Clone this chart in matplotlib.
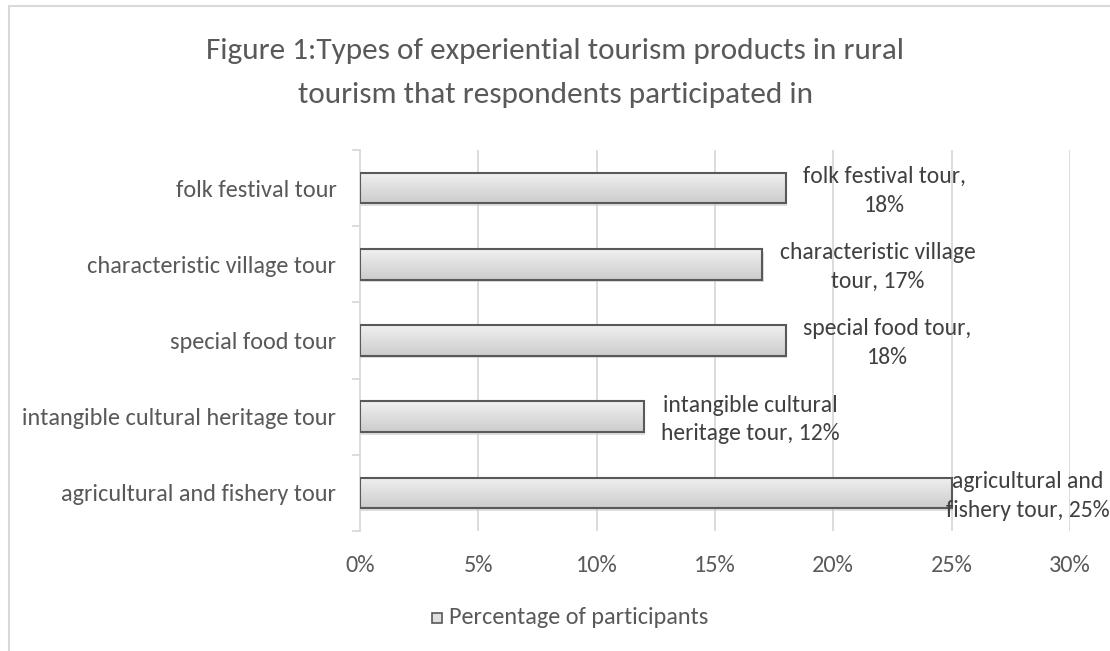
import matplotlib.pyplot as plt
from matplotlib import font_manager
from matplotlib.patches import Rectangle
import numpy as np

categories = ['agricultural and fishery tour', 'intangible cultural heritage tour',
              'special food tour', 'characteristic village tour', 'folk festival tour']
values = [25, 12, 18, 17, 18]
point_labels = ['agricultural and\nfishery tour, 25%', 'intangible cultural\nheritage tour, 12%',
                'special food tour,\n18%', 'characteristic village\ntour, 17%',
                'folk festival tour,\n18%']
ticks = [0, 5, 10, 15, 20, 25, 30]

GRAY = '#595959'
installed = {f.name for f in font_manager.fontManager.ttflist}
if 'Carlito' in installed:
    plt.rcParams['font.family'] = ['Carlito', 'DejaVu Sans']
    FS, LFS, TFS, TLS = 17.5, 17, 22.5, 1.85
else:
    plt.rcParams['font.family'] = ['Lato', 'DejaVu Sans']
    FS, LFS, TFS, TLS = 16, 15.5, 20, 2.1

fig = plt.figure(figsize=(11.1, 6.51), dpi=100)
W, H = 1110, 651

# chart frame
fig.patches.append(Rectangle((9 / W, -0.1), 1.2, 1 - 6 / H + 0.1, transform=fig.transFigure,
                             fill=False, edgecolor='#d9d9d9', linewidth=1.5))

ax = fig.add_axes([360 / W, 1 - 531 / H, 710 / W, 381 / H])

# vertical gridlines
for t in ticks[1:]:
    ax.axvline(t, color='#d9d9d9', linewidth=1.3, zorder=0)

# bars with a vertical grey gradient, outline and a soft shadow
grad = np.linspace(0.94, 0.80, 64).reshape(-1, 1)
bh = 0.4
for i, v in enumerate(values):
    ax.add_patch(Rectangle((0.05, i - bh / 2 - 0.035), v, bh, facecolor='#c8c8c8',
                           edgecolor='none', alpha=0.6, zorder=1))
    ax.imshow(grad, extent=(0, v, i - bh / 2, i + bh / 2), aspect='auto', cmap='gray',
              vmin=0, vmax=1, origin='upper', zorder=2, interpolation='bilinear')
    ax.add_patch(Rectangle((0, i - bh / 2), v, bh, facecolor='none', edgecolor=GRAY,
                           linewidth=1.5, zorder=3))
    off = 12.5 if v < 24 else -4
    ax.annotate(point_labels[i], (v, i), xytext=(off, -2), textcoords='offset points',
                ha='left', va='center', multialignment='center', fontsize=LFS,
                color='#404040', linespacing=1.45, zorder=4)

ax.set_xlim(0, 30)
ax.set_ylim(-0.5, len(categories) - 0.5)

ax.set_xticks(ticks)
ax.set_xticklabels([f'{t}%' for t in ticks])
ax.set_yticks(range(len(categories)))
ax.set_yticklabels(categories)
ax.set_yticks(np.arange(-0.5, len(categories), 1), minor=True)
ax.tick_params(axis='x', length=0, pad=17, labelsize=FS, labelcolor=GRAY)
ax.tick_params(axis='y', which='major', length=0, pad=17, labelsize=FS, labelcolor=GRAY)
ax.tick_params(axis='y', which='minor', length=6, color='#d9d9d9', width=1.3)

for s in ['top', 'right', 'bottom']:
    ax.spines[s].set_visible(False)
ax.spines['left'].set_color('#d9d9d9')
ax.spines['left'].set_linewidth(1.3)

fig.text(0.5, 1 - 73 / H, 'Figure 1:Types of experiential tourism products in rural\n'
         'tourism that respondents participated in', ha='center', va='center',
         fontsize=TFS, color=GRAY, linespacing=TLS)

# legend
lx, ly = 437, 618
fig.patches.append(Rectangle(((lx - 5) / W, 1 - (ly + 5) / H), 10 / W, 10 / H,
                             transform=fig.transFigure, facecolor='#e0e0e0',
                             edgecolor=GRAY, linewidth=1.2))
fig.text((lx + 12) / W, 1 - ly / H, 'Percentage of participants', ha='left', va='center',
         fontsize=FS, color=GRAY)

fig.savefig('out.png', dpi=100)
